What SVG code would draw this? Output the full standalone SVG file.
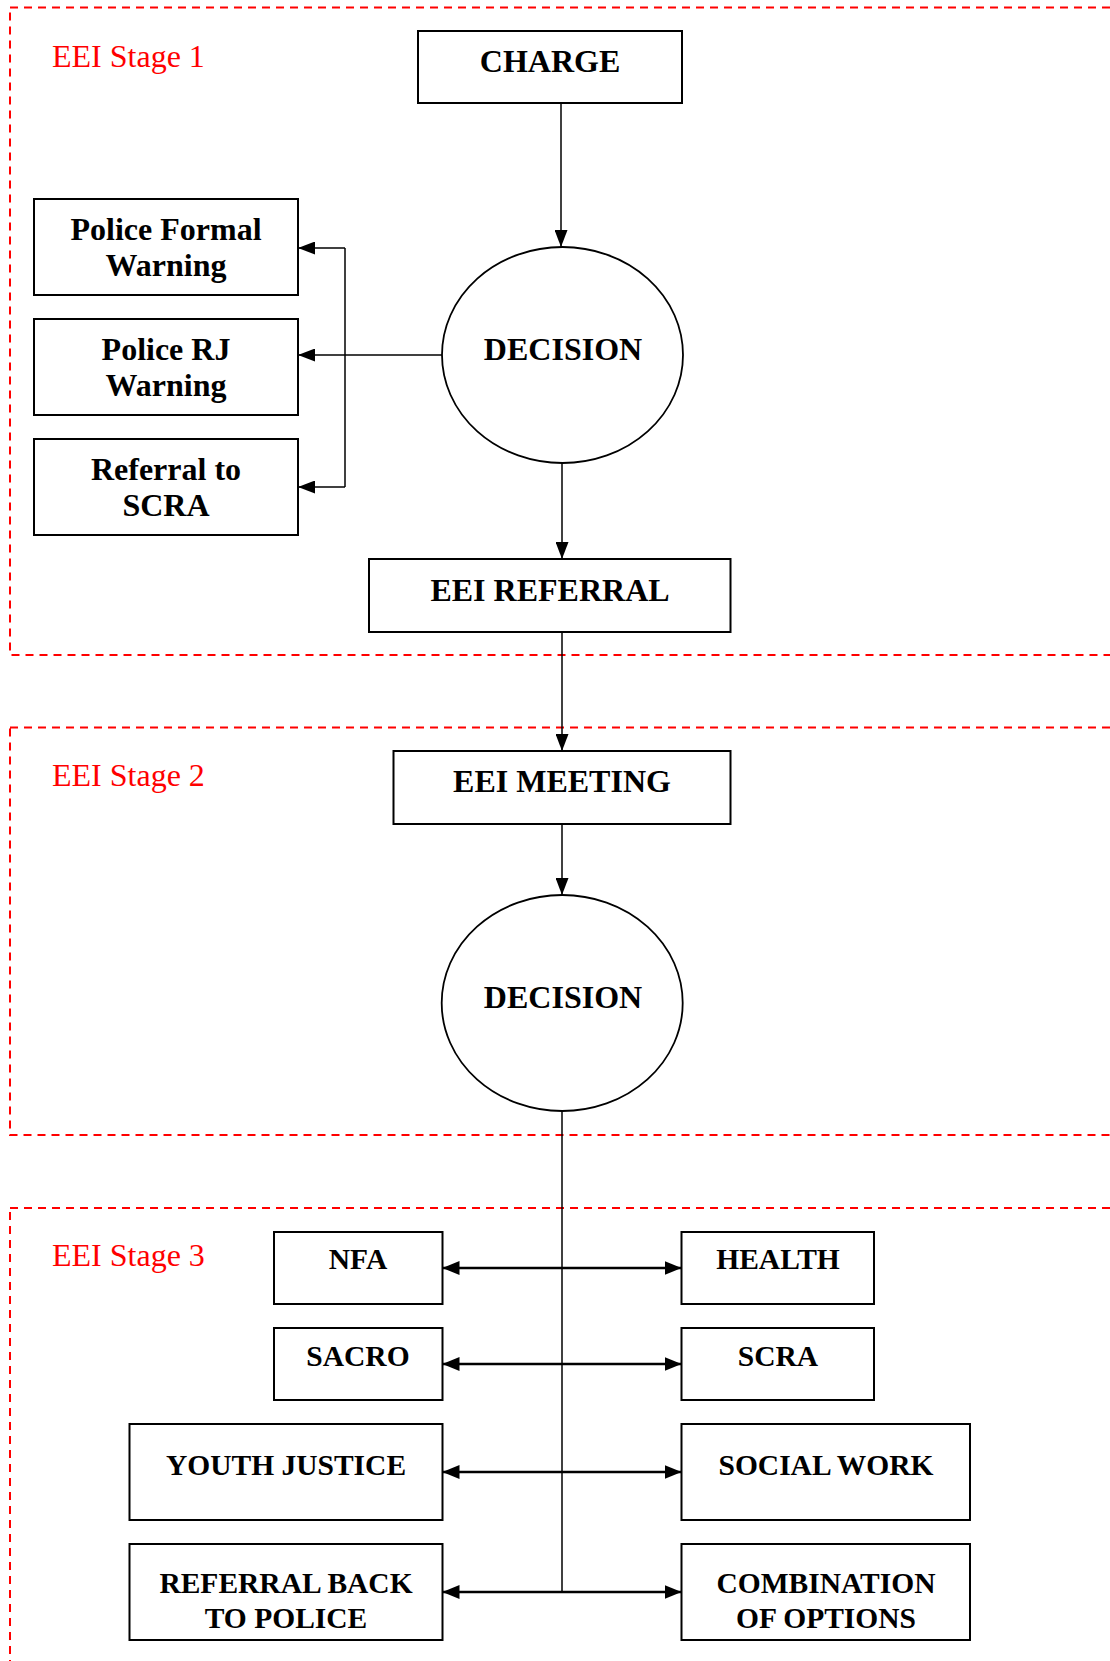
<svg xmlns="http://www.w3.org/2000/svg" width="1110" height="1661" viewBox="0 0 1110 1661">
<style>
.stage{fill:none;stroke:#ff0000;stroke-width:2;stroke-dasharray:8 6}
.slabel{font-family:"Liberation Serif","Times New Roman",serif;font-size:32px;fill:#ff0000}
.box{fill:#ffffff;stroke:#000000;stroke-width:2}
.ell{fill:#ffffff;stroke:#000000;stroke-width:1.8}
.t{font-family:"Liberation Serif","Times New Roman",serif;font-weight:bold;font-size:32px;fill:#000000;text-anchor:middle}
.t3{font-family:"Liberation Serif","Times New Roman",serif;font-weight:bold;font-size:29.5px;fill:#000000;text-anchor:middle}
.ln{fill:none;stroke:#000000;stroke-width:1.5}
.ln2{fill:none;stroke:#000000;stroke-width:2.4}
</style>
<defs>
<marker id="ah" markerUnits="userSpaceOnUse" markerWidth="17" markerHeight="13" refX="17" refY="6.5" orient="auto">
<path d="M0,0 L17,6.5 L0,13 z" fill="#000000"/>
</marker>
<marker id="ah3" markerUnits="userSpaceOnUse" markerWidth="17" markerHeight="14" refX="17" refY="7" orient="auto-start-reverse">
<path d="M0,0 L17,7 L0,14 z" fill="#000000"/>
</marker>
</defs>

<g id="stages">
<rect class="stage" x="10" y="7.5" width="1130" height="647.5"/>
<rect class="stage" x="10" y="727.5" width="1130" height="407.5"/>
<rect class="stage" x="10" y="1208" width="1130" height="500"/>
<text class="slabel" x="52" y="67">EEI Stage 1</text>
<text class="slabel" x="52" y="786">EEI Stage 2</text>
<text class="slabel" x="52" y="1266">EEI Stage 3</text>
</g>

<g id="connectors">
<line class="ln" x1="561" y1="103" x2="561" y2="247" marker-end="url(#ah)"/>
<line class="ln" x1="442" y1="355" x2="298" y2="355" marker-end="url(#ah)"/>
<polyline class="ln" points="345,248 345,487"/>
<line class="ln" x1="345" y1="248" x2="298" y2="248" marker-end="url(#ah)"/>
<line class="ln" x1="345" y1="487" x2="298" y2="487" marker-end="url(#ah)"/>
<line class="ln" x1="562" y1="463" x2="562" y2="559" marker-end="url(#ah)"/>
<line class="ln" x1="562" y1="632" x2="562" y2="751" marker-end="url(#ah)"/>
<line class="ln" x1="562" y1="824" x2="562" y2="895" marker-end="url(#ah)"/>
<line class="ln" x1="562" y1="1111" x2="562" y2="1592"/>
<line class="ln2" x1="442.5" y1="1268" x2="681.5" y2="1268" marker-start="url(#ah3)" marker-end="url(#ah3)"/>
<line class="ln2" x1="442.5" y1="1364" x2="681.5" y2="1364" marker-start="url(#ah3)" marker-end="url(#ah3)"/>
<line class="ln2" x1="442.5" y1="1472" x2="681.5" y2="1472" marker-start="url(#ah3)" marker-end="url(#ah3)"/>
<line class="ln2" x1="442.5" y1="1592" x2="681.5" y2="1592" marker-start="url(#ah3)" marker-end="url(#ah3)"/>
</g>

<g id="charge">
<rect class="box" x="418" y="31" width="264" height="72"/>
<text class="t" x="550" y="72">CHARGE</text>
</g>
<g id="police-formal-warning">
<rect class="box" x="34" y="199" width="264" height="96"/>
<text class="t" x="166" y="240">Police Formal</text>
<text class="t" x="166" y="276">Warning</text>
</g>
<g id="police-rj-warning">
<rect class="box" x="34" y="319" width="264" height="96"/>
<text class="t" x="166" y="360">Police RJ</text>
<text class="t" x="166" y="396">Warning</text>
</g>
<g id="referral-to-scra">
<rect class="box" x="34" y="439" width="264" height="96"/>
<text class="t" x="166" y="480">Referral to</text>
<text class="t" x="166" y="516">SCRA</text>
</g>
<g id="decision-1">
<ellipse class="ell" cx="562.5" cy="355" rx="120.5" ry="108"/>
<text class="t" x="563" y="360">DECISION</text>
</g>
<g id="eei-referral">
<rect class="box" x="369" y="559" width="361.5" height="73"/>
<text class="t" x="550" y="601">EEI REFERRAL</text>
</g>
<g id="eei-meeting">
<rect class="box" x="393.5" y="751" width="337" height="73"/>
<text class="t" x="562" y="792">EEI MEETING</text>
</g>
<g id="decision-2">
<ellipse class="ell" cx="562.2" cy="1003" rx="120.5" ry="108"/>
<text class="t" x="563" y="1008">DECISION</text>
</g>

<g id="nfa">
<rect class="box" x="274" y="1232" width="168.5" height="72"/>
<text class="t3" x="358" y="1269">NFA</text>
</g>
<g id="health">
<rect class="box" x="681.5" y="1232" width="192.5" height="72"/>
<text class="t3" x="778" y="1269">HEALTH</text>
</g>
<g id="sacro">
<rect class="box" x="274" y="1328" width="168.5" height="72"/>
<text class="t3" x="358" y="1366">SACRO</text>
</g>
<g id="scra">
<rect class="box" x="681.5" y="1328" width="192.5" height="72"/>
<text class="t3" x="778" y="1366">SCRA</text>
</g>
<g id="youth-justice">
<rect class="box" x="129.5" y="1424" width="313" height="96"/>
<text class="t3" x="286" y="1475">YOUTH JUSTICE</text>
</g>
<g id="social-work">
<rect class="box" x="681.5" y="1424" width="288.5" height="96"/>
<text class="t3" x="826" y="1475">SOCIAL WORK</text>
</g>
<g id="referral-back-to-police">
<rect class="box" x="129.5" y="1544" width="313" height="96"/>
<text class="t3" x="286" y="1593">REFERRAL BACK</text>
<text class="t3" x="286" y="1628">TO POLICE</text>
</g>
<g id="combination-of-options">
<rect class="box" x="681.5" y="1544" width="288.5" height="96"/>
<text class="t3" x="826" y="1593">COMBINATION</text>
<text class="t3" x="826" y="1628">OF OPTIONS</text>
</g>
</svg>
